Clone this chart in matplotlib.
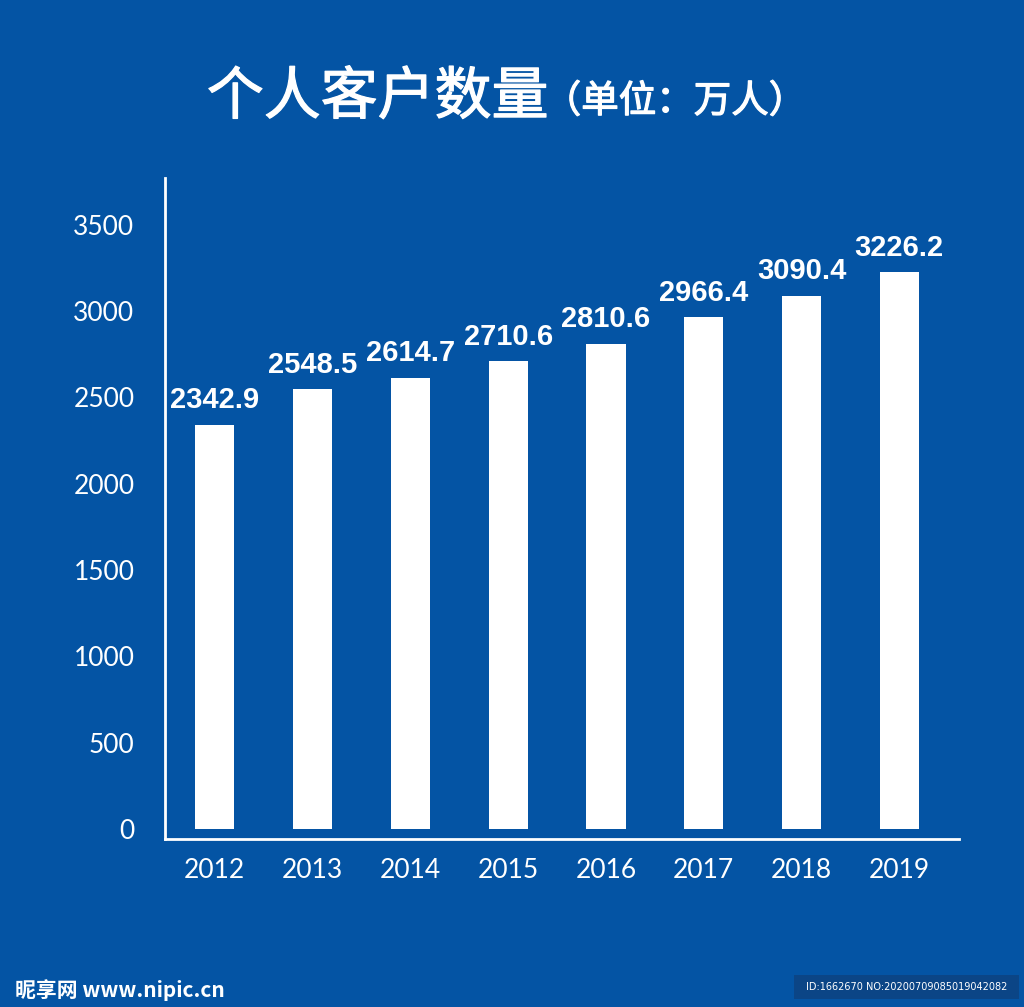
import matplotlib
matplotlib.use("Agg")
import matplotlib.pyplot as plt
import matplotlib.patheffects as pe
from matplotlib.patches import Rectangle

years = ["2012", "2013", "2014", "2015", "2016", "2017", "2018", "2019"]
customers = [2342.9, 2548.5, 2614.7, 2710.6, 2810.6, 2966.4, 3090.4, 3226.2]
yticks = [0, 500, 1000, 1500, 2000, 2500, 3000, 3500]

bg = "#0454A4"
plt.rcParams["font.family"] = ["Noto Sans CJK SC", "DejaVu Sans"]

fig = plt.figure(figsize=(10.24, 10.07), dpi=100, facecolor=bg)
ax = fig.add_axes([0.1611, 0.1668, 0.7754, 0.6564])
ax.set_facecolor(bg)

x = list(range(len(years)))
ax.bar(x, customers, width=0.4, color="white", zorder=3)
for xi, v in zip(x, customers):
    ax.text(xi, v + 60, f"{v:.1f}", ha="center", va="bottom", color="white",
            fontsize=21, fontweight="bold", family="Liberation Sans")

ax.set_xlim(-0.51, 7.61)
ax.set_ylim(-58, 3771)
ax.set_xticks(x)
ax.set_xticklabels(years, family="Lato", fontsize=19, color="white")
ax.set_yticks(yticks)
ax.set_yticklabels([str(t) for t in yticks], family="Lato", fontsize=19, color="white")
ax.tick_params(axis="both", length=0)
ax.tick_params(axis="y", pad=22)
ax.tick_params(axis="x", pad=14)

for s in ["top", "right"]:
    ax.spines[s].set_visible(False)
for s in ["left", "bottom"]:
    ax.spines[s].set_color("white")
    ax.spines[s].set_linewidth(2)

# title (regular weight thickened a little to look medium)
thick = [pe.withStroke(linewidth=0.9, foreground="white")]
fig.text(0.202, 0.903, "个人客户数量", color="white", fontsize=41,
         ha="left", va="center", path_effects=thick)
fig.text(0.531, 0.899, "（单位：万人）", color="white", fontsize=27,
         ha="left", va="center", path_effects=thick)

# watermark
fig.text(0.015, 0.017, "昵享网 www.nipic.cn", color="white", fontsize=15,
         fontweight="bold", style="italic", ha="left", va="center")
fig.patches.append(Rectangle((0.775, 0.008), 0.22, 0.024, transform=fig.transFigure,
                             facecolor="#0B4586", edgecolor="none"))
fig.text(0.885, 0.020, "ID:1662670 NO:20200709085019042082", color="white",
         fontsize=7, family="DejaVu Sans", ha="center", va="center")

fig.savefig("out.png", dpi=100, facecolor=bg)
